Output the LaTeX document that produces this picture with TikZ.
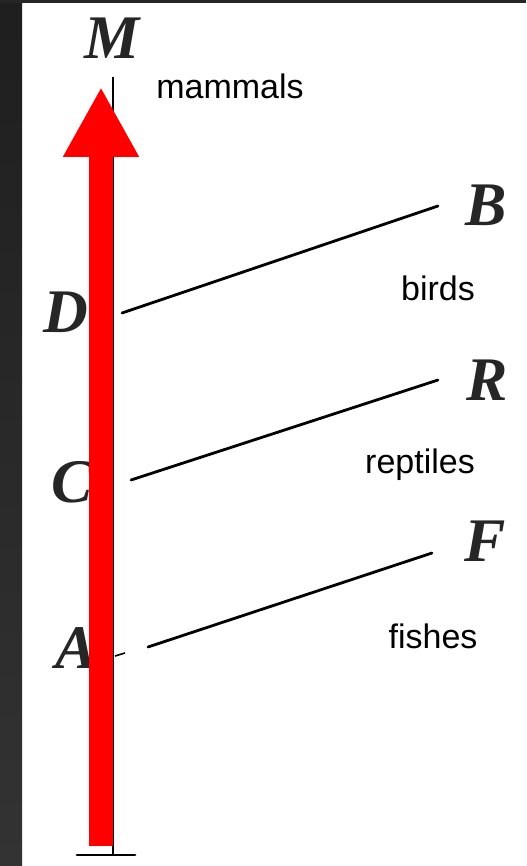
\documentclass[tikz,border=0pt]{standalone}
\usepackage{fontspec}
\setmainfont{Liberation Serif}
\newfontfamily\labelfont{Liberation Sans}
\usetikzlibrary{arrows.meta}
\usetikzlibrary{positioning}

\begin{document}
\begin{tikzpicture}[
    x=0.5pt, y=-0.5pt,
    letter/.style={inner sep=0, font=\fontsize{31}{34}\selectfont\bfseries\itshape, text=black!85},
    group/.style={inner sep=0, font=\labelfont\fontsize{17}{20}\selectfont},
    branch/.style={line width=1.4pt, line cap=round},
 ]
    % frame
    \useasboundingbox (0,0) rectangle (526,866);
    \shade[top color=black!88, bottom color=black!80] (0,0) rectangle (22,866);
    \fill[black!85] (0,0) rectangle (526,3);

    % the stem
    \coordinate (top) at (113,77);
    \coordinate (foot) at (113,855);
    \draw[line width=1pt] (top) -- (foot);
    \draw[line width=1.4pt, line cap=round] ([xshift=-18pt]foot) -- ([xshift=11pt]foot);

    \node[letter] (M) at (112,38) {M};
    \node[group] (mammals) at (230,86) {mammals};

    \node[letter] (D) at (66,312) {D};
    \node[letter] (B) at (486,205) {B};
    \node[group] (birds) at (438,288) {birds};
    \coordinate (d) at (122,313);
    \coordinate (b) at (438,206);
    \draw[branch] (d) -- (b);

    \node[letter] (C) at (72,482) {C};
    \node[letter] (R) at (487,380) {R};
    \node[group] (reptiles) at (420,465) {reptiles};
    \coordinate (c) at (131,480);
    \coordinate (r) at (438,380);
    \draw[branch] (c) -- (r);

    \node[letter] (A) at (76,648) {A};
    \node[letter] (F) at (485,541) {F};
    \node[group] (fishes) at (433,636) {fishes};
    \coordinate (a) at (115,656);
    \coordinate (a1) at (125,653);
    \coordinate (a2) at (148,647);
    \coordinate (f) at (432,553);
    \draw[line width=0.8pt] (a) -- (a1);
    \draw[branch] (a2) -- (f);

    % red arrow over the stem
    \coordinate (redfoot) at (101,846);
    \coordinate (redtip) at (101,87);
    \draw[red, line width=12pt, -{Triangle[width=35.5pt,length=35pt]}] (redfoot) -- (redtip);
\end{tikzpicture}
\end{document}
